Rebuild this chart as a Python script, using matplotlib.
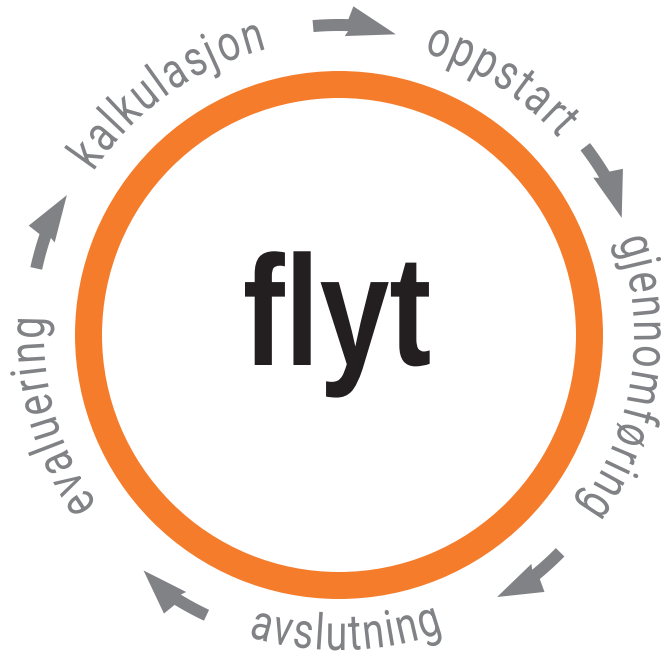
import numpy as np
import matplotlib
matplotlib.use("Agg")
import matplotlib.pyplot as plt
from matplotlib.patches import Wedge, Polygon
from matplotlib.transforms import Affine2D
from matplotlib.patheffects import AbstractPathEffect
from matplotlib.font_manager import FontProperties, findfont, get_font

#---------------------------------------
# data: stages round the circle, and the arrows between them (degrees,
# counter-clockwise from the right, centre of the ring)
stages = ["kalkulasjon", "oppstart", "gjennomføring", "avslutning", "evaluering"]
stage_angles = [125.3, 57.6, -8.4, -88.7, 195.8]
arrow_start = [94.8, 37.4, -44.5, -115.3, 167.6]
arrow_end = [79.3, 22.5, -58.9, -129.7, 152.8]
center_word = "flyt"
#---------------------------------------

W, H = 661, 659
CX, CY = 339, H - 335
ORANGE = "#f47c2b"
GREY = "#808285"
BLACK = "#231f20"
FAMILY = ["Roboto", "Liberation Sans", "DejaVu Sans"]
FS = 36         # points, 1 px = 0.72 pt at dpi 100
SX = 0.79       # horizontal squeeze, the original face is a condensed one
TRACK = 2.0     # extra px between letters


# Condense : squeezes the glyphs of a text sideways round their middle
class Condense(AbstractPathEffect):
    def __init__(self, sx):
        super().__init__()
        self.sx = sx

    def draw_path(self, renderer, gc, tpath, affine, rgbFace=None):
        ext = tpath.get_extents()
        mx = (ext.x0 + ext.x1) / 2
        aff = Affine2D().translate(-mx, 0).scale(self.sx, 1).translate(mx, 0) + affine
        renderer.draw_path(gc, tpath, aff, rgbFace)


# curved_text : writes a word letter by letter along an arc of radius r
def curved_text(ax, word, theta0, r, bottom):
    prop = FontProperties(family=FAMILY, size=FS, weight="normal")
    font = get_font(findfont(prop))
    font.set_size(FS, 100)
    hf = matplotlib.rcParams["text.hinting_factor"]
    widths = [SX * font.load_char(ord(c)).horiAdvance / 64 / hf for c in word]
    total = sum(widths) + TRACK * (len(word) - 1)
    s = -total / 2
    for c, w in zip(word, widths):
        mid = s + w / 2
        s += w + TRACK
        phi = np.degrees(mid / r)
        if bottom:
            th = theta0 + phi
            rot = th + 90
        else:
            th = theta0 - phi
            rot = th - 90
        x = CX + r * np.cos(np.radians(th))
        y = CY + r * np.sin(np.radians(th))
        ax.text(x, y, c, rotation=rot, rotation_mode="anchor", ha="center",
                va="baseline", fontproperties=prop, color=GREY,
                path_effects=[Condense(SX)])


# arrow : thick curved arrow going clockwise from a0 to a1
def arrow(ax, a0, a1, r=310):
    d = a0 - a1
    ab = a0 - 0.42 * d
    t = np.linspace(a0, ab, 25)
    pts = [(r + 6, a) for a in t]
    pts += [(r + 19, ab - 0.8), (r - 4, a1), (r - 11, ab + 0.6)]
    pts += [(r - 6, a) for a in t[::-1]]
    xy = [(CX + rr * np.cos(np.radians(a)), CY + rr * np.sin(np.radians(a)))
          for rr, a in pts]
    ax.add_patch(Polygon(xy, closed=True, facecolor=GREY, edgecolor="none"))


fig = plt.figure(figsize=(W / 100, H / 100), dpi=100)
ax = fig.add_axes([0, 0, 1, 1])
ax.set_xlim(0, W)
ax.set_ylim(0, H)
ax.set_aspect("equal")
ax.axis("off")

# orange ring
ax.add_patch(Wedge((CX, CY), 264, 0, 360, width=27, facecolor=ORANGE,
                   edgecolor="none"))

ax.text(337, H - 365, center_word, ha="center", va="baseline", color=BLACK,
        fontsize=113, fontweight="bold", family=["Liberation Sans", "DejaVu Sans"],
        path_effects=[Condense(0.8)])

for word, ang in zip(stages, stage_angles):
    bottom = np.sin(np.radians(ang)) < -0.7
    curved_text(ax, word, ang, 315 if bottom else 295, bottom)

for a0, a1 in zip(arrow_start, arrow_end):
    arrow(ax, a0, a1)

fig.savefig("out.png", dpi=100)
